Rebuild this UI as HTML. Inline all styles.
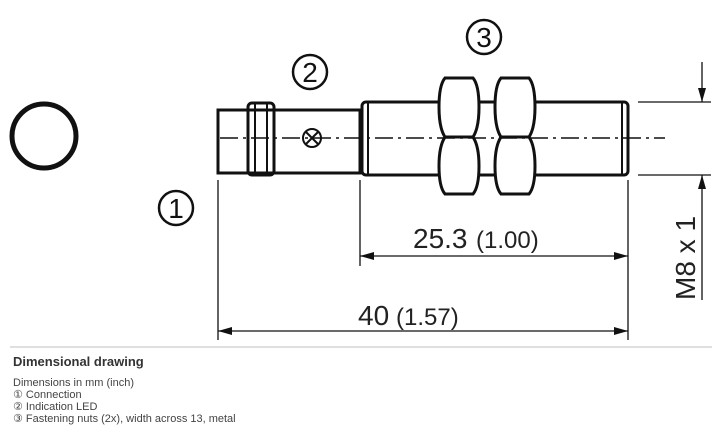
<!DOCTYPE html>
<html><head><style>
body{margin:0;background:#fff;width:717px;height:434px;overflow:hidden;font-family:"Liberation Sans","DejaVu Sans",sans-serif}
.t{position:absolute;left:13px;font-size:11px;color:#444;line-height:12px}
</style></head><body>
<svg width="717" height="434" style="position:absolute;left:0;top:0" xmlns="http://www.w3.org/2000/svg">
<g fill="none" stroke="#111" stroke-width="3">
<circle cx="44" cy="136" r="32" stroke-width="5"/>
<!-- left body -->
<rect x="218" y="110" width="142" height="63"/>
<rect x="248" y="103" width="26" height="72" rx="4"/>
<line x1="255" y1="103" x2="255" y2="175" stroke-width="2"/>
<line x1="267" y1="103" x2="267" y2="175" stroke-width="2"/>
<circle cx="312" cy="138" r="9" stroke-width="2"/>
<line x1="306" y1="132" x2="318" y2="144" stroke-width="2"/>
<line x1="318" y1="132" x2="306" y2="144" stroke-width="2"/>
<!-- threaded -->
<rect x="362" y="102" width="266" height="73" rx="4"/>
<line x1="368" y1="102" x2="368" y2="175" stroke-width="2"/>
<line x1="622" y1="102" x2="622" y2="175" stroke-width="2"/>
<!-- nuts -->
<path d="M445,78 H473 Q479,85 479,107 Q479,128 473,137 H445 Q439,128 439,107 Q439,85 445,78 Z" fill="#fff"/>
<path d="M445,137 H473 Q479,146 479,166 Q479,187 473,194 H445 Q439,187 439,166 Q439,146 445,137 Z" fill="#fff"/>
<path d="M501,78 H529 Q535,85 535,107 Q535,128 529,137 H501 Q495,128 495,107 Q495,85 501,78 Z" fill="#fff"/>
<path d="M501,137 H529 Q535,146 535,166 Q535,187 529,194 H501 Q495,187 495,166 Q495,146 501,137 Z" fill="#fff"/>
</g>
<line x1="220" y1="138" x2="665" y2="138" stroke="#111" stroke-width="1.5" stroke-dasharray="18,5,3,5"/>
<g stroke="#111" stroke-width="1.3" fill="none">
<line x1="218" y1="180" x2="218" y2="340"/>
<line x1="360" y1="180" x2="360" y2="266"/>
<line x1="628" y1="180" x2="628" y2="340"/>
<line x1="360" y1="256" x2="628" y2="256"/>
<line x1="218" y1="331" x2="628" y2="331"/>
<line x1="638" y1="102" x2="711" y2="102"/>
<line x1="638" y1="175" x2="711" y2="175"/>
<line x1="702" y1="62" x2="702" y2="102"/>
<line x1="702" y1="175" x2="702" y2="300"/>
<line x1="10" y1="347" x2="712" y2="347" stroke="#ccc"/>
</g>
<g fill="#111">
<path d="M360,256 l14,-4 v8z"/><path d="M628,256 l-14,-4 v8z"/>
<path d="M218,331 l14,-4 v8z"/><path d="M628,331 l-14,-4 v8z"/>
<path d="M702,102 l-4,-14 h8z"/><path d="M702,175 l-4,14 h8z"/>
</g>
<g font-family="Liberation Sans,sans-serif" fill="#222">
<text x="413" y="248" font-size="28">25.3</text><text x="476" y="248" font-size="24">(1.00)</text>
<text x="358" y="325" font-size="28">40</text><text x="396" y="325" font-size="24">(1.57)</text>
<text transform="translate(695,300) rotate(-90)" font-size="28">M8 x 1</text>
</g>
<g fill="none" stroke="#111" stroke-width="2.5">
<circle cx="176" cy="208" r="17"/><circle cx="310" cy="72" r="17"/><circle cx="484" cy="37" r="17"/>
</g>
<g font-family="Liberation Sans,sans-serif" font-size="28" fill="#111" text-anchor="middle">
<text x="176" y="218">1</text><text x="310" y="82">2</text><text x="484" y="47">3</text>
</g>
</svg>
<div class="t" style="top:356px;font-weight:bold;font-size:13px;color:#333">Dimensional drawing</div>
<div class="t" style="top:377px">Dimensions in mm (inch)<br>① Connection<br>② Indication LED<br>③ Fastening nuts (2x), width across 13, metal</div>
</body></html>
